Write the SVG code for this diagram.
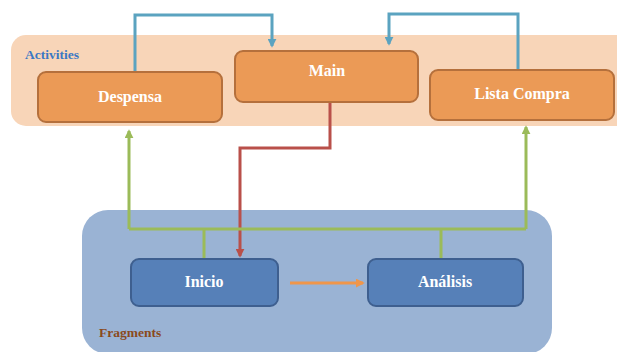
<svg xmlns="http://www.w3.org/2000/svg" width="617" height="352" viewBox="0 0 617 352">
  <style>
    .act { fill: #eb9a56; stroke: #b5703c; stroke-width: 2; }
    .frag { fill: #5680b8; stroke: #3e5f8f; stroke-width: 2; }
    .lbl { font-family: "Liberation Serif", "Times New Roman", serif; font-weight: bold; font-size: 16px; fill: #ffffff; text-anchor: middle; }
    .grp { font-family: "Liberation Serif", "Times New Roman", serif; font-weight: bold; font-size: 13.5px; }
    .c { fill: none; stroke-width: 3; }
  </style>
  <defs>
    <marker id="hb" viewBox="0 0 10 10" refX="8" refY="5" markerWidth="3" markerHeight="3" orient="auto"><path d="M0,0 L10,5 L0,10 Z" fill="#5ba3c0"/></marker>
    <marker id="hr" viewBox="0 0 10 10" refX="8" refY="5" markerWidth="3" markerHeight="3" orient="auto"><path d="M0,0 L10,5 L0,10 Z" fill="#b9504a"/></marker>
    <marker id="hg" viewBox="0 0 10 10" refX="8" refY="5" markerWidth="3" markerHeight="3" orient="auto"><path d="M0,0 L10,5 L0,10 Z" fill="#9bbb59"/></marker>
    <marker id="ho" viewBox="0 0 10 10" refX="8" refY="5" markerWidth="3" markerHeight="3" orient="auto"><path d="M0,0 L10,5 L0,10 Z" fill="#f0964a"/></marker>
  </defs>

  <!-- group bands -->
  <g id="activities">
    <rect x="11" y="35" width="630" height="91" rx="15" fill="#f8d5b8"/>
    <text class="grp" x="25" y="59" fill="#3b78c4">Activities</text>
  </g>
  <g id="fragments">
    <rect x="82" y="210" width="470" height="144" rx="26" fill="#9ab3d4"/>
    <text class="grp" x="99" y="337" fill="#8a4a1c">Fragments</text>
  </g>

  <!-- connectors -->
  <g id="connectors">
    <path class="c" stroke="#5ba3c0" d="M135,72 V15 H272 V46" marker-end="url(#hb)"/>
    <path class="c" stroke="#5ba3c0" d="M518,70 V14 H389 V44" marker-end="url(#hb)"/>
    <path class="c" stroke="#b9504a" d="M330,102 V148 H240 V256" marker-end="url(#hr)"/>
    <path class="c" stroke="#9bbb59" d="M129,229 H526"/>
    <path class="c" stroke="#9bbb59" d="M129,229 V131" marker-end="url(#hg)"/>
    <path class="c" stroke="#9bbb59" d="M526,229 V127" marker-end="url(#hg)"/>
    <path class="c" stroke="#9bbb59" d="M204,259 V229"/>
    <path class="c" stroke="#9bbb59" d="M441,259 V229"/>
    <path class="c" stroke="#f0964a" d="M290,283 H363" marker-end="url(#ho)"/>
  </g>

  <!-- nodes -->
  <g id="despensa">
    <rect class="act" x="38" y="72" width="184" height="50" rx="8"/>
    <text class="lbl" x="130" y="102">Despensa</text>
  </g>
  <g id="main">
    <rect class="act" x="235" y="51" width="183" height="51" rx="8"/>
    <text class="lbl" x="327" y="76">Main</text>
  </g>
  <g id="lista-compra">
    <rect class="act" x="430" y="70" width="184" height="50" rx="8"/>
    <text class="lbl" x="522" y="99">Lista Compra</text>
  </g>
  <g id="inicio">
    <rect class="frag" x="131" y="259" width="147" height="47" rx="8"/>
    <text class="lbl" x="204" y="287">Inicio</text>
  </g>
  <g id="analisis">
    <rect class="frag" x="368" y="259" width="155" height="47" rx="8"/>
    <text class="lbl" x="445" y="287">Análisis</text>
  </g>
</svg>
